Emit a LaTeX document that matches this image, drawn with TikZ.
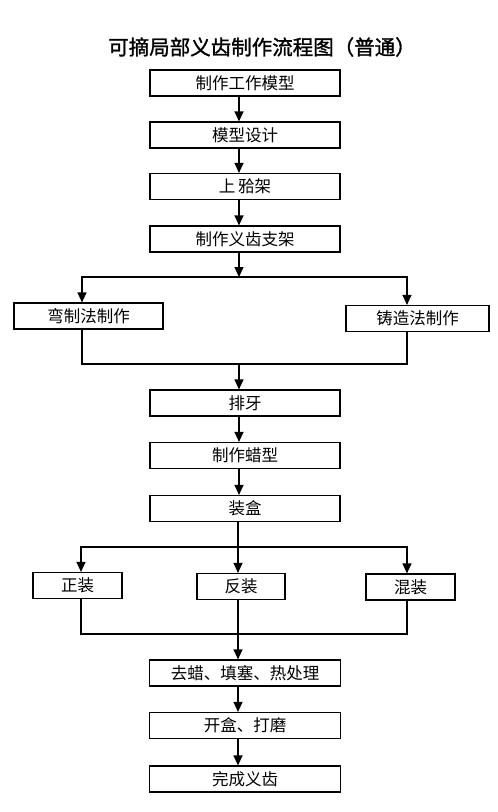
\documentclass[tikz,border=0pt]{standalone}
\usepackage{fontspec}
\setmainfont{Noto Sans CJK SC}
\newfontfamily\titlefont[FakeBold=1.3]{Noto Sans CJK SC}
\usetikzlibrary{arrows.meta}
\begin{document}
\begin{tikzpicture}[x=1pt,y=-1pt,
  box/.style={draw=black,line width=1.2pt,minimum height=26pt,inner sep=0pt,font=\fontsize{16.5}{16.5}\selectfont,fill=white},
  conn/.style={line width=1.2pt,-{Triangle[length=10pt,width=9pt]}},
  plain/.style={line width=1.2pt}]
\useasboundingbox[fill=white] (0,0) rectangle (498,812);
\node[font=\fontsize{20.5}{20.5}\titlefont] (title) at (262,47) {可摘局部义齿制作流程图（普通）};
\node[box,minimum width=190pt] (b1) at (245,83) {制作工作模型};
\node[box,minimum width=190pt] (b2) at (245,135) {模型设计};
\node[box,minimum width=190pt] (b3) at (245,186.5) {上\,𬌗架};
\node[box,minimum width=190pt] (b4) at (245,239) {制作义齿支架};
\node[box,minimum width=149pt] (l1) at (88.5,316) {弯制法制作};
\node[box,minimum width=143pt] (r1) at (417.5,318.5) {铸造法制作};
\node[box,minimum width=190pt] (b5) at (245,403) {排牙};
\node[box,minimum width=190pt] (b6) at (245,455.5) {制作蜡型};
\node[box,minimum width=190pt] (b7) at (245,508.5) {装盒};
\node[box,minimum width=89pt] (z1) at (77.5,585.5) {正装};
\node[box,minimum width=88pt] (z2) at (241,586.5) {反装};
\node[box,minimum width=89pt] (z3) at (410.5,587) {混装};
\node[box,minimum width=191pt] (b8) at (245,673) {去蜡、填塞、热处理};
\node[box,minimum width=191pt] (b9) at (245,725.5) {开盒、打磨};
\node[box,minimum width=191pt] (b10) at (245,779) {完成义齿};
\coordinate (s1) at (239,277);
\coordinate (m1) at (239,364);
\coordinate (s2) at (238,547);
\coordinate (m2) at (238,634);
\draw[conn] (b1.south -| s1) -- (b2.north -| s1);
\draw[conn] (b2.south -| s1) -- (b3.north -| s1);
\draw[conn] (b3.south -| s1) -- (b4.north -| s1);
\draw[conn] (b4.south -| s1) -- (s1);
\draw[conn] (s1) -| (l1.north -| 82,0);
\draw[conn] (s1) -| (r1.north -| 407,0);
\draw[plain] (l1.south -| 82,0) |- (m1);
\draw[plain] (r1.south -| 407,0) |- (m1);
\draw[conn] (m1) -- (b5.north -| m1);
\draw[conn] (b5.south -| m1) -- (b6.north -| m1);
\draw[conn] (b6.south -| m1) -- (b7.north -| m1);
\draw[conn] (b7.south -| s2) -- (z2.north -| s2);
\draw[conn] (s2) -| (z1.north -| 81,0);
\draw[conn] (s2) -| (z3.north -| 407,0);
\draw[plain] (z1.south -| 81,0) |- (m2);
\draw[plain] (z3.south -| 407,0) |- (m2);
\draw[conn] (z2.south -| s2) -- (b8.north -| s2);
\draw[conn] (b8.south -| s2) -- (b9.north -| s2);
\draw[conn] (b9.south -| s2) -- (b10.north -| s2);
\end{tikzpicture}
\end{document}
